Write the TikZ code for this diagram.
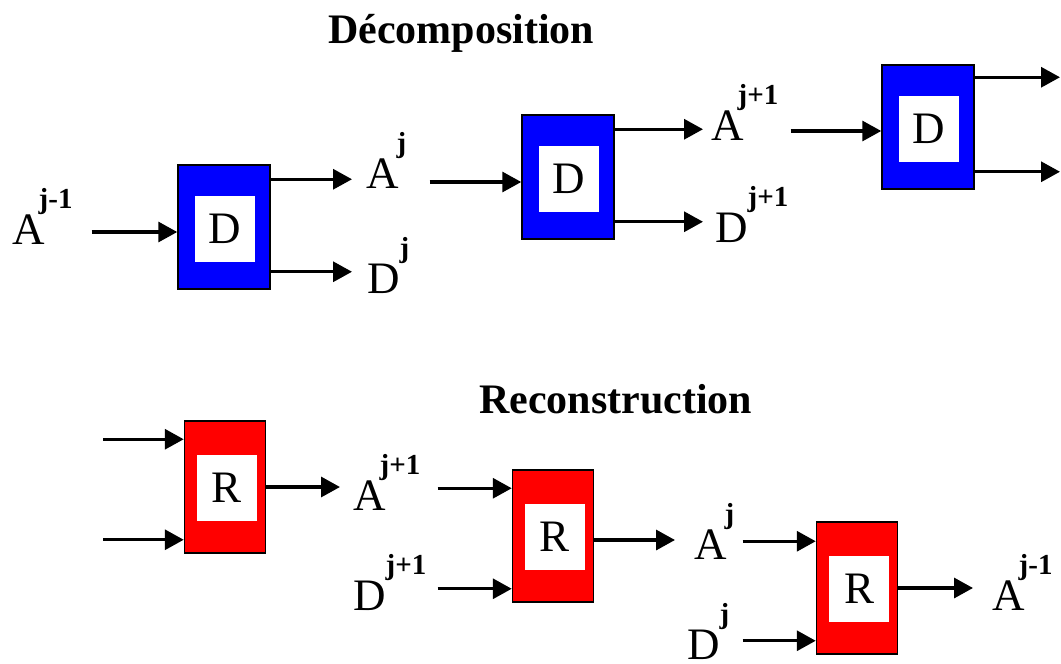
\documentclass[tikz,border=0pt]{standalone}
\usepackage{fontspec}
\setmainfont{Liberation Serif}
\usepackage{tikz}
\usetikzlibrary{calc, arrows.meta, positioning}

\newcommand{\supf}{\fontsize{29}{29}\selectfont\bfseries}
\newcommand{\wl}[3][-6pt]{#2\kern#1\raisebox{36pt}{\supf #3}}

\begin{document}
\begin{tikzpicture}[x=1pt, y=-1pt,
    every node/.style={font=\fontsize{45}{45}\selectfont, inner sep=0pt},
    arr/.style={-{Triangle[length=19pt,width=20pt]}, line width=3.3pt},
    dbox/.style={draw, line width=1.5pt, fill=blue, minimum width=92pt, minimum height=124pt},
    rbox/.style={draw, line width=1.5pt, fill=red, minimum width=81pt, minimum height=132pt},
    inbox/.style={fill=white, minimum width=60pt, minimum height=66pt},
    lbl/.style={anchor=base west},
    title/.style={font=\fontsize{42}{42}\selectfont\bfseries, anchor=base west},
  ]
  \useasboundingbox (0,0) rectangle (1061,664);

  % titles
  \node[title] (tdec) at (328,43) {Décomposition};
  \node[title] (trec) at (479,413) {Reconstruction};

  % decomposition boxes
  \node[dbox] (d1) at (224,227) {};
  \node[inbox, xshift=1pt, yshift=-2pt] (d1c) at (d1) {D};
  \node[dbox] (d2) at (568,177) {};
  \node[inbox, xshift=1pt, yshift=-2pt] (d2c) at (d2) {D};
  \node[dbox] (d3) at (928,127) {};
  \node[inbox, xshift=1pt, yshift=-2pt] (d3c) at (d3) {D};

  % reconstruction boxes
  \node[rbox] (r1) at (225,487) {};
  \node[inbox, xshift=2pt, yshift=-1pt] (r1c) at (r1) {R};
  \node[rbox] (r2) at (553,536) {};
  \node[inbox, xshift=2pt, yshift=-1pt] (r2c) at (r2) {R};
  \node[rbox] (r3) at (857,588) {};
  \node[inbox, xshift=2pt, yshift=-1pt] (r3c) at (r3) {R};

  % labels
  \node[lbl] (a0) at (12,244) {\wl{A}{j-1}};
  \node[lbl] (a1) at (366,188) {\wl[-2pt]{A}{j}};
  \node[lbl] (dd1) at (367,293) {\wl[0pt]{D}{j}};
  \node[lbl] (a2) at (711,140) {\wl{A}{j+1}};
  \node[lbl] (dd2) at (715,242) {\wl[0pt]{D}{j+1}};
  \node[lbl] (ra2) at (353,510) {\wl{A}{j+1}};
  \node[lbl] (rd2) at (353,610) {\wl[0pt]{D}{j+1}};
  \node[lbl] (ra1) at (694,559) {\wl[-2pt]{A}{j}};
  \node[lbl] (rd1) at (687,659) {\wl[0pt]{D}{j}};
  \node[lbl] (ra0) at (992,610) {\wl{A}{j-1}};

  % ports
  \coordinate (rim) at (1060,0);
  \coordinate (lim) at (103,0);
  \coordinate (d1i) at ($(d1.west)+(0,-5pt)$);
  \coordinate (d1o1) at ($(d1.north east)+(0,-15pt)$);
  \coordinate (d1o2) at ($(d1.south east)+(0,18pt)$);
  \coordinate (d2i) at ($(d2.west)+(0,-5pt)$);
  \coordinate (d2o1) at ($(d2.north east)+(0,-15pt)$);
  \coordinate (d2o2) at ($(d2.south east)+(0,18pt)$);
  \coordinate (d3i) at ($(d3.west)+(0,-4pt)$);
  \coordinate (d3o1) at ($(d3.north east)+(0,-13pt)$);
  \coordinate (d3o2) at ($(d3.south east)+(0,18pt)$);
  \coordinate (r1i1) at ($(r1.north west)+(0,-19pt)$);
  \coordinate (r1i2) at ($(r1.south west)+(0,14pt)$);
  \coordinate (r1o) at (r1.east);
  \coordinate (r2i1) at ($(r2.north west)+(0,-19pt)$);
  \coordinate (r2i2) at ($(r2.south west)+(0,14pt)$);
  \coordinate (r2o) at ($(r2.east)+(0,-4pt)$);
  \coordinate (r3i1) at ($(r3.north west)+(0,-20pt)$);
  \coordinate (r3i2) at ($(r3.south west)+(0,14pt)$);
  \coordinate (r3o) at (r3.east);

  % decomposition arrows
  \draw[arr, shorten <=19pt] (a0.east |- d1i) -- (d1i);
  \draw[arr, shorten >=14pt] (d1o1) -- (d1o1 -| a1.west);
  \draw[arr, shorten >=15pt] (d1o2) -- (d1o2 -| dd1.west);
  \draw[arr, shorten <=23pt] (a1.east |- d2i) -- (d2i);
  \draw[arr, shorten >=8pt] (d2o1) -- (d2o1 -| a2.west);
  \draw[arr, shorten >=12pt] (d2o2) -- (d2o2 -| dd2.west);
  \draw[arr, shorten <=12pt] (a2.east |- d3i) -- (d3i);
  \draw[arr] (d3o1) -- (d3o1 -| rim);
  \draw[arr] (d3o2) -- (d3o2 -| rim);

  % reconstruction arrows
  \draw[arr] (r1i1 -| lim) -- (r1i1);
  \draw[arr] (r1i2 -| lim) -- (r1i2);
  \draw[arr, shorten >=13pt] (r1o) -- (r1o -| ra2.west);
  \draw[arr, shorten <=17pt] (ra2.east |- r2i1) -- (r2i1);
  \draw[arr, shorten <=11pt] (rd2.east |- r2i2) -- (r2i2);
  \draw[arr, shorten >=19pt] (r2o) -- (r2o -| ra1.west);
  \draw[arr, shorten <=8pt] (ra1.east |- r3i1) -- (r3i1);
  \draw[arr, shorten <=13pt] (rd1.east |- r3i2) -- (r3i2);
  \draw[arr, shorten >=19pt] (r3o) -- (r3o -| ra0.west);
\end{tikzpicture}
\end{document}
